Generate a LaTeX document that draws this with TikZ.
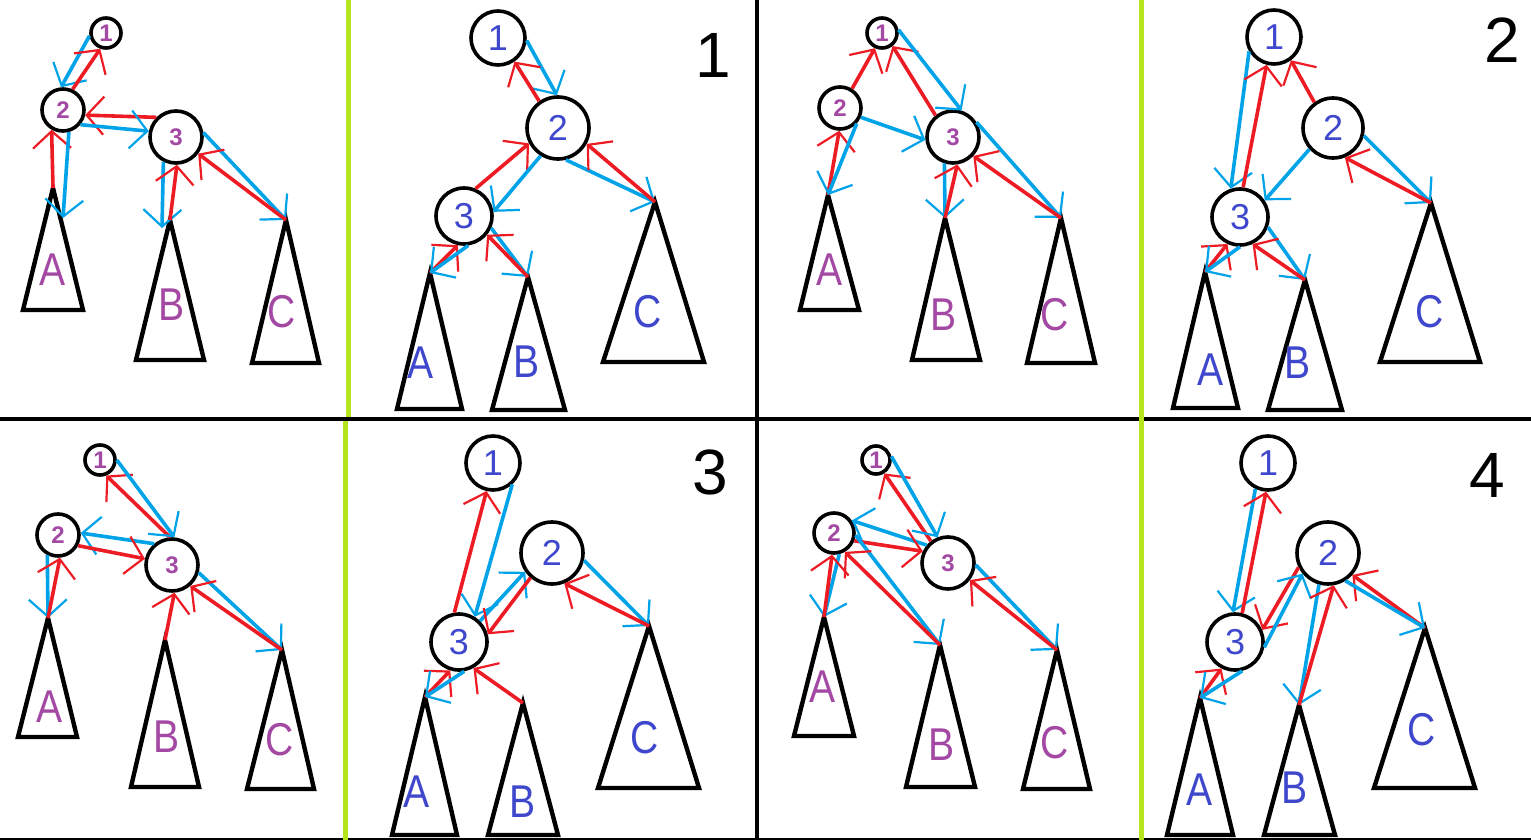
\documentclass[tikz,border=0pt]{standalone}
\usepackage{fontspec}
\setmainfont{Liberation Sans}
\usetikzlibrary{arrows.meta}

\definecolor{pred}{HTML}{ED1C24}
\definecolor{pblue}{HTML}{00A2E8}
\definecolor{ppurple}{HTML}{A349A4}
\definecolor{pindigo}{HTML}{3F48CC}
\definecolor{plime}{HTML}{B5E61D}

\tikzset{
  barb/.tip={Straight Barb[length=8.5pt,width=19pt,line width=1.1pt]},
  vtx/.style={draw, circle, line width=1.8pt, inner sep=0pt},
  vsmall/.style={vtx, text=ppurple, font=\fontsize{12}{12}\selectfont\bfseries},
  vbig/.style={vtx, text=pindigo, font=\fontsize{18}{18}\selectfont},
  lblp/.style={text=ppurple, font=\fontsize{23}{23}\selectfont, xscale=0.85},
  lblb/.style={text=pindigo, font=\fontsize{23}{23}\selectfont, xscale=0.85},
  casenum/.style={font=\fontsize{32}{32}\selectfont},
  subtree/.style={draw, line width=2.2pt},
  redarr/.style={draw=pred, line width=1.8pt, -barb},
  bluearr/.style={draw=pblue, line width=1.8pt, -barb},
  divider/.style={draw, line width=2pt},
  greenline/.style={draw=plime, line width=2.5pt}
}

\begin{document}
\begin{tikzpicture}[x=0.5pt, y=-0.5pt]
\useasboundingbox (0,0) rectangle (1531,840);

\draw[divider] (0,419) -- (1531,419);
\draw[divider] (757,0) -- (757,840);
\draw[line width=1pt] (0,839) -- (1531,839);
\draw[greenline] (348,0) -- (348,417);
\draw[greenline] (345,421) -- (345,840);
\draw[greenline] (1141,0) -- (1141,840);

% case 1, before
\node[vsmall, minimum size=15pt] at (106,33) (l1x1) {1};
\node[vsmall, minimum size=21pt] at (63,110) (l1x2) {2};
\node[vsmall, minimum size=26pt] at (176,137) (l1x3) {3};
\coordinate (l1A) at (53,188);
\coordinate (l1B) at (170,220);
\coordinate (l1C) at (286,220);
\coordinate (l1Aend) at (63,218);
\coordinate (l1Bend) at (162,228);
\draw[subtree] (l1A) -- ++(-30,122) -- ++(60,0) -- cycle;
\draw[subtree] (l1B) -- ++(-34,140) -- ++(68,0) -- cycle;
\draw[subtree] (l1C) -- ++(-34,143) -- ++(67,0) -- cycle;
\node[lblp] at (53,270) (l1la) {A};
\node[lblp] at (172,305) (l1lb) {B};
\node[lblp] at (282,312) (l1lc) {C};
\draw[bluearr] (l1x1.190) -- (l1x2.95);
\draw[redarr] (l1x2.65) -- (l1x1.250);
\draw[redarr] (l1x3.135) -- (l1x2.347);
\draw[bluearr] (l1x2.320) -- (l1x3.168);
\draw[redarr] (l1A) -- (l1x2.240);
\draw[bluearr] (l1x2.285) -- (l1Aend);
\draw[bluearr] (l1x3.243) -- (l1Bend);
\draw[redarr] (l1B) -- (l1x3.272);
\draw[bluearr] (l1x3.9) -- (l1C);
\draw[redarr] (l1C) -- (l1x3.323);

% case 1, after
\node[vbig, minimum size=27pt] at (498,38) (r1x1) {1};
\node[vbig, minimum size=31pt] at (558,128) (r1x2) {2};
\node[vbig, minimum size=28pt] at (464,216) (r1x3) {3};
\coordinate (r1A) at (430,273);
\coordinate (r1B) at (528,277);
\coordinate (r1C) at (655,202);
\draw[subtree] (r1A) -- ++(-33,136) -- ++(65,0) -- cycle;
\draw[subtree] (r1B) -- ++(-36,133) -- ++(73,0) -- cycle;
\draw[subtree] (r1C) -- ++(-52,160) -- ++(101,0) -- cycle;
\node[lblb] at (421,363) (r1la) {A};
\node[lblb] at (527,362) (r1lb) {B};
\node[lblb] at (648,312) (r1lc) {C};
\node[casenum] at (713,55) (case1) {1};
\draw[bluearr] (r1x1.355) -- (r1x2.92);
\draw[redarr] (r1x2.125) -- (r1x1.305);
\draw[redarr] (r1x3.67) -- (r1x2.208);
\draw[bluearr] (r1x2.238) -- (r1x3.8);
\draw[bluearr] (r1x2.284) -- (r1C);
\draw[redarr] (r1C) -- (r1x2.331);
\draw[redarr] (r1A) -- (r1x3.258);
\draw[bluearr] (r1x3.278) -- (r1A);
\draw[bluearr] (r1x3.336) -- (r1B);
\draw[redarr] (r1B) -- (r1x3.321);

% case 2, before
\node[vsmall, minimum size=15pt] at (882,33) (l2x1) {1};
\node[vsmall, minimum size=21pt] at (840,108) (l2x2) {2};
\node[vsmall, minimum size=26pt] at (953,137) (l2x3) {3};
\coordinate (l2A) at (828,195);
\coordinate (l2B) at (945,218);
\coordinate (l2C) at (1061,218);
\draw[subtree] (l2A) -- ++(-28,115) -- ++(59,0) -- cycle;
\draw[subtree] (l2B) -- ++(-33,142) -- ++(68,0) -- cycle;
\draw[subtree] (l2C) -- ++(-34,145) -- ++(68,0) -- cycle;
\node[lblp] at (830,270) (l2la) {A};
\node[lblp] at (944,315) (l2lb) {B};
\node[lblp] at (1055,315) (l2lc) {C};
\draw[redarr] (l2x2.58) -- (l2x1.245);
\draw[redarr] (l2x3.129) -- (l2x1.309);
\draw[bluearr] (l2x1.11) -- (l2x3.72);
\draw[bluearr] (l2x2.336) -- (l2x3.186);
\draw[redarr] (l2A) -- (l2x2.268);
\draw[bluearr] (l2x2.317) -- (l2A);
\draw[bluearr] (l2x3.252) -- (l2B);
\draw[redarr] (l2B) -- (l2x3.279);
\draw[bluearr] (l2x3.32) -- (l2C);
\draw[redarr] (l2C) -- (l2x3.317);

% case 2, after
\node[vbig, minimum size=27pt] at (1274,37) (r2x1) {1};
\node[vbig, minimum size=30pt] at (1333,128) (r2x2) {2};
\node[vbig, minimum size=28pt] at (1240,217) (r2x3) {3};
\coordinate (r2A) at (1205,272);
\coordinate (r2B) at (1305,280);
\coordinate (r2C) at (1431,203);
\draw[subtree] (r2A) -- ++(-32,136) -- ++(65,0) -- cycle;
\draw[subtree] (r2B) -- ++(-37,130) -- ++(74,0) -- cycle;
\draw[subtree] (r2C) -- ++(-51,159) -- ++(100,0) -- cycle;
\node[lblb] at (1211,370) (r2la) {A};
\node[lblb] at (1298,363) (r2lb) {B};
\node[lblb] at (1430,312) (r2lc) {C};
\node[casenum] at (1502,40) (case2) {2};
\draw[bluearr] (r2x1.210) -- (r2x3.108);
\draw[redarr] (r2x3.84) -- (r2x1.255);
\draw[redarr] (r2x2.126) -- (r2x1.306);
\draw[bluearr] (r2x2.222) -- (r2x3.34);
\draw[bluearr] (r2x2.346) -- (r2C);
\draw[redarr] (r2C) -- (r2x2.292);
\draw[redarr] (r2A) -- (r2x3.245);
\draw[bluearr] (r2x3.270) -- (r2A);
\draw[bluearr] (r2x3.340) -- (r2B);
\draw[redarr] (r2B) -- (r2x3.295);

% case 3, before
\node[vsmall, minimum size=15pt] at (100,460) (l3x1) {1};
\node[vsmall, minimum size=21pt] at (58,535) (l3x2) {2};
\node[vsmall, minimum size=26pt] at (172,565) (l3x3) {3};
\coordinate (l3A) at (48,618);
\coordinate (l3B) at (165,640);
\coordinate (l3C) at (282,650);
\draw[subtree] (l3A) -- ++(-30,119) -- ++(59,0) -- cycle;
\draw[subtree] (l3B) -- ++(-34,147) -- ++(68,0) -- cycle;
\draw[subtree] (l3C) -- ++(-35,139) -- ++(67,0) -- cycle;
\node[lblp] at (50,707) (l3la) {A};
\node[lblp] at (167,737) (l3lb) {B};
\node[lblp] at (280,740) (l3lc) {C};
\draw[redarr] (l3x3.94) -- (l3x1.292);
\draw[bluearr] (l3x1.0) -- (l3x3.85);
\draw[bluearr] (l3x3.130) -- (l3x2.5);
\draw[redarr] (l3x2.332) -- (l3x3.167);
\draw[bluearr] (l3x2.242) -- (l3A);
\draw[redarr] (l3A) -- (l3x2.275);
\draw[redarr] (l3B) -- (l3x3.275);
\draw[bluearr] (l3x3.344) -- (l3C);
\draw[redarr] (l3C) -- (l3x3.311);

% case 3, after
\node[vbig, minimum size=27pt] at (493,463) (r3x1) {1};
\node[vbig, minimum size=31pt] at (552,553) (r3x2) {2};
\node[vbig, minimum size=28pt] at (459,642) (r3x3) {3};
\coordinate (r3A) at (425,697);
\coordinate (r3B) at (523,703);
\coordinate (r3C) at (649,626);
\draw[subtree] (r3A) -- ++(-33,138) -- ++(65,0) -- cycle;
\draw[subtree] (r3B) -- ++(-35,132) -- ++(70,0) -- cycle;
\draw[subtree] (r3C) -- ++(-51,162) -- ++(101,0) -- cycle;
\node[lblb] at (417,792) (r3la) {A};
\node[lblb] at (523,802) (r3lb) {B};
\node[lblb] at (645,738) (r3lc) {C};
\node[casenum] at (710,472) (case3) {3};
\draw[redarr] (r3x3.99) -- (r3x1.257);
\draw[bluearr] (r3x1.312) -- (r3x3.58);
\draw[bluearr] (r3x3.45) -- (r3x2.215);
\draw[redarr] (r3x2.229) -- (r3x3.15);
\draw[bluearr] (r3x2.347) -- (r3C);
\draw[redarr] (r3C) -- (r3x2.292);
\draw[redarr] (r3A) -- (r3x3.253);
\draw[bluearr] (r3x3.280) -- (r3A);
\draw[redarr] (r3B) -- (r3x3.299);

% case 4, before
\node[vsmall, minimum size=14pt] at (876,460) (l4x1) {1};
\node[vsmall, minimum size=20pt] at (834,533) (l4x2) {2};
\node[vsmall, minimum size=26pt] at (948,563) (l4x3) {3};
\coordinate (l4A) at (824,617);
\coordinate (l4B) at (940,645);
\coordinate (l4C) at (1057,650);
\draw[subtree] (l4A) -- ++(-30,119) -- ++(60,0) -- cycle;
\draw[subtree] (l4B) -- ++(-34,142) -- ++(69,0) -- cycle;
\draw[subtree] (l4C) -- ++(-34,139) -- ++(67,0) -- cycle;
\node[lblp] at (823,687) (l4la) {A};
\node[lblp] at (942,745) (l4lb) {B};
\node[lblp] at (1055,743) (l4lc) {C};
\draw[redarr] (l4x3.128) -- (l4x1.302);
\draw[bluearr] (l4x1.13) -- (l4x3.112);
\draw[bluearr] (l4x3.140) -- (l4x2.35);
\draw[redarr] (l4x2.339) -- (l4x3.155);
\draw[bluearr] (l4x2.284) -- (l4A);
\draw[redarr] (l4A) -- (l4x2.265);
\draw[bluearr] (l4x2.354) -- (l4B);
\draw[redarr] (l4B) -- (l4x2.300);
\draw[bluearr] (l4x3.356) -- (l4C);
\draw[redarr] (l4C) -- (l4x3.322);

% case 4, after
\node[vbig, minimum size=27pt] at (1268,463) (r4x1) {1};
\node[vbig, minimum size=31pt] at (1328,553) (r4x2) {2};
\node[vbig, minimum size=28pt] at (1235,642) (r4x3) {3};
\coordinate (r4A) at (1200,698);
\coordinate (r4B) at (1299,705);
\coordinate (r4C) at (1425,628);
\draw[subtree] (r4A) -- ++(-33,137) -- ++(66,0) -- cycle;
\draw[subtree] (r4B) -- ++(-35,130) -- ++(71,0) -- cycle;
\draw[subtree] (r4C) -- ++(-51,160) -- ++(101,0) -- cycle;
\node[lblb] at (1200,790) (r4la) {A};
\node[lblb] at (1295,788) (r4lb) {B};
\node[lblb] at (1422,730) (r4lc) {C};
\node[casenum] at (1487,475) (case4) {4};
\draw[bluearr] (r4x1.244) -- (r4x3.94);
\draw[redarr] (r4x3.76) -- (r4x1.266);
\draw[redarr] (r4x2.206) -- (r4x3.24);
\draw[bluearr] (r4x3.350) -- (r4x2.219);
\draw[bluearr] (r4x2.254) -- (r4B);
\draw[redarr] (r4B) -- (r4x2.280);
\draw[redarr] (r4C) -- (r4x2.318);
\draw[bluearr] (r4x2.302) -- (r4C);
\draw[redarr] (r4A) -- (r4x3.243);
\draw[bluearr] (r4x3.284) -- (r4A);
\end{tikzpicture}
\end{document}
